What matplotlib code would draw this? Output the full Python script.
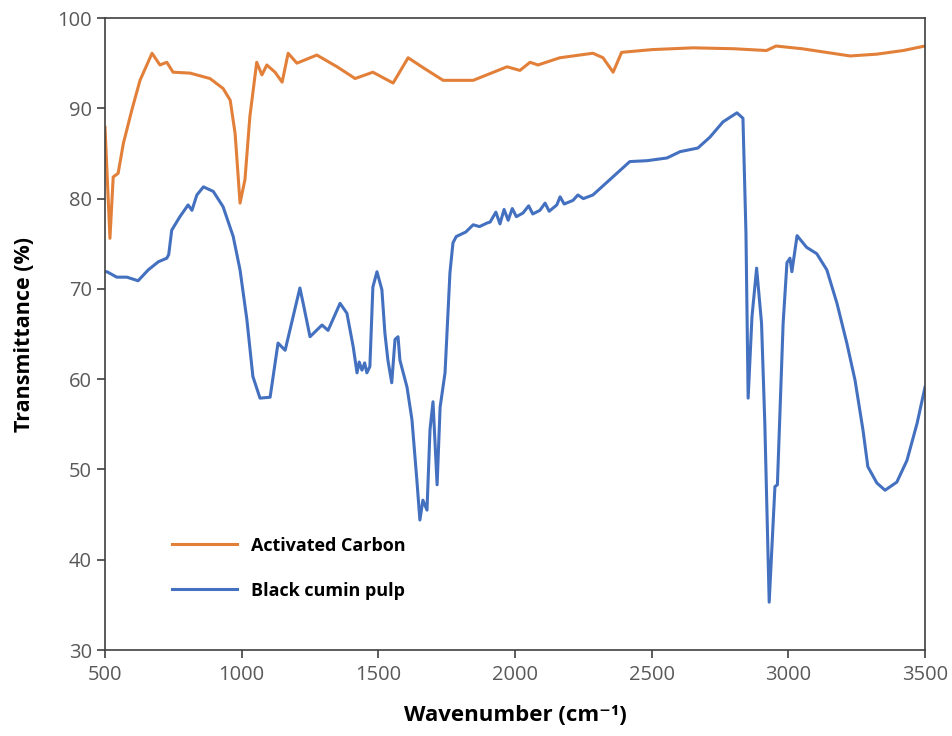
import numpy as np
from matplotlib import pyplot as plt

plt.rcParams['font.family'] = ['Open Sans', 'DejaVu Sans']
plt.rcParams['xtick.direction'] = 'out'
plt.rcParams['ytick.direction'] = 'out'

# FTIR spectra
ac_wn = [500, 518, 530, 548, 567, 598, 628, 672, 701, 726, 749, 811, 884, 932, 958,
         976, 994, 1012, 1030, 1055, 1074, 1092, 1122, 1148, 1170, 1202, 1275, 1349,
         1415, 1480, 1554, 1609, 1664, 1737, 1847, 1971, 2018, 2055, 2084, 2164, 2285,
         2322, 2359, 2390, 2500, 2651, 2800, 2920, 2955, 3050, 3226, 3324, 3420, 3500]
ac_t = [87.9, 75.6, 82.4, 82.8, 86.1, 89.8, 93.1, 96.1, 94.8, 95.1, 94.0, 93.9, 93.3, 92.2, 90.9,
        87.2, 79.5, 82.1, 89.1, 95.1, 93.7, 94.8, 94.0, 92.9, 96.1, 95.0, 95.9, 94.6,
        93.3, 94.0, 92.8, 95.6, 94.5, 93.1, 93.1, 94.6, 94.2, 95.1, 94.8, 95.6, 96.1,
        95.6, 94.0, 96.2, 96.5, 96.7, 96.6, 96.4, 96.9, 96.6, 95.8, 96.0, 96.4, 96.9]

bc_wn = [500, 507, 543, 580, 621, 658, 695, 726, 733, 744, 774, 804, 818, 836, 860,
         896, 932, 969, 994, 1019, 1041, 1067, 1104, 1133, 1159, 1213, 1225, 1250,
         1294, 1316, 1360, 1385, 1408, 1422, 1430, 1440, 1450, 1458, 1469, 1480, 1495,
         1513, 1524, 1535, 1549, 1561, 1572, 1579, 1605, 1623, 1641, 1652, 1663, 1678,
         1689, 1700, 1715, 1726, 1744, 1762, 1773, 1785, 1799, 1820, 1847, 1870, 1898,
         1909, 1930, 1945, 1960, 1975, 1990, 2005, 2029, 2050, 2065, 2091, 2110, 2125,
         2153, 2165, 2180, 2212, 2230, 2250, 2285, 2347, 2420, 2483, 2556, 2604, 2669,
         2713, 2761, 2812, 2834, 2845, 2853, 2867, 2884, 2902, 2914, 2930, 2951, 2960,
         2981, 2995, 3006, 3013, 3032, 3067, 3104, 3141, 3178, 3214, 3244, 3273, 3291,
         3324, 3354, 3397, 3434, 3471, 3500]
bc_t = [71.9, 71.9, 71.3, 71.3, 70.9, 72.1, 73.0, 73.4, 73.8, 76.5, 78.0, 79.3, 78.7, 80.4, 81.3,
        80.8, 79.1, 75.8, 72.1, 66.6, 60.3, 57.9, 58.0, 64.0, 63.2, 70.1, 68.4, 64.7,
        66.0, 65.4, 68.4, 67.3, 63.6, 60.7, 61.9, 61.0, 61.8, 60.7, 61.4, 70.2, 71.9,
        69.9, 65.1, 62.1, 59.6, 64.4, 64.7, 62.1, 59.1, 55.5, 48.8, 44.4, 46.6, 45.5,
        54.4, 57.5, 48.3, 56.9, 60.7, 71.8, 75.1, 75.8, 76.0, 76.3, 77.1, 76.9, 77.3,
        77.4, 78.5, 77.2, 78.8, 77.6, 78.9, 78.0, 78.4, 79.2, 78.3, 78.7, 79.5, 78.6,
        79.3, 80.2, 79.4, 79.8, 80.4, 80.0, 80.4, 82.1, 84.1, 84.2, 84.5, 85.2, 85.6,
        86.8, 88.5, 89.5, 88.9, 76.2, 57.9, 66.9, 72.3, 66.2, 55.1, 35.3, 48.1, 48.3,
        66.2, 72.9, 73.4, 71.9, 75.9, 74.6, 73.9, 72.1, 68.4, 64.0, 59.9, 54.4, 50.3,
        48.5, 47.7, 48.6, 51.0, 55.1, 59.1]

fig = plt.figure(figsize=(9.53, 7.36), dpi=100)
ax = fig.add_axes([0.1102, 0.1168, 0.8604, 0.8587])

ax.plot(ac_wn, ac_t, color='#E2803A', lw=2.2, label='Activated Carbon')
ax.plot(bc_wn, bc_t, color='#4470C0', lw=2.2, label='Black cumin pulp')

ax.set_xlim(500, 3500)
ax.set_ylim(30, 100)
ax.set_xticks(np.arange(500, 3501, 500))
ax.set_yticks(np.arange(30, 101, 10))
ax.tick_params(axis='both', labelsize=14.5, colors='#404040', labelcolor='#595959',
               length=6, width=1.2, top=False, right=False)
ax.tick_params(axis='x', pad=5)
for s in ax.spines.values():
    s.set_color('#404040')
    s.set_linewidth(1.2)

ax.set_xlabel('Wavenumber (cm⁻¹)', fontsize=16, fontweight='bold', labelpad=14)
ax.set_ylabel('Transmittance (%)', fontsize=15.5, fontweight='bold', labelpad=16)

leg = ax.legend(loc='upper left', bbox_to_anchor=(0.062, 0.205), frameon=False,
                handlelength=3.6, labelspacing=1.5, handletextpad=0.75,
                prop={'size': 13, 'weight': 'bold'})

plt.savefig('out.png', dpi=100)
